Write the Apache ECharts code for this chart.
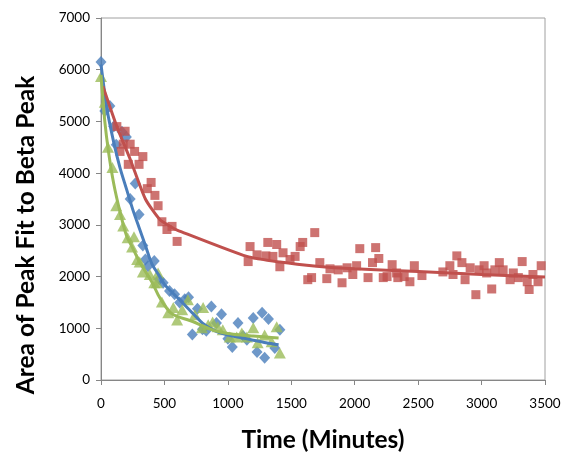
<!DOCTYPE html>
<html><head><meta charset="utf-8">
<script src="https://cdn.jsdelivr.net/npm/echarts@6/dist/echarts.min.js"></script>
<style>html,body{margin:0;padding:0;background:#fff}#c{width:563px;height:453px}</style>
</head><body><div id="c"></div>
<script>
const xTicks = [0,500,1000,1500,2000,2500,3000,3500];
const yTicks = [0,1000,2000,3000,4000,5000,6000,7000];

const blueT = [0,30,70,100,120,165,200,230,270,300,330,350,370,420,460,490,540,580,620,660,690,720,760,800,830,870,910,950,1000,1035,1080,1120,1150,1200,1230,1270,1290,1320,1370,1410];
const blueY = [6150,5200,5300,4900,4550,4800,4700,3500,3800,3200,2600,2330,2200,2300,1950,1880,1720,1660,1500,1560,1600,880,1380,980,950,1420,1100,1270,800,640,1100,850,780,1200,540,1300,430,1180,620,970];

const redT = [125,150,175,190,215,230,265,300,330,365,395,425,450,480,520,560,600,1160,1175,1230,1300,1315,1355,1385,1410,1435,1490,1530,1570,1590,1630,1660,1685,1725,1780,1805,1870,1900,1940,1985,2015,2040,2105,2140,2165,2190,2225,2255,2295,2330,2340,2390,2435,2470,2530,2695,2750,2775,2805,2845,2870,2910,2955,2980,3020,3040,3080,3105,3140,3170,3225,3250,3290,3320,3360,3375,3405,3445,3470];
const redY = [4900,4420,4560,4810,4170,4560,4420,4170,4320,3700,3820,3570,3370,3060,2910,2970,2680,2290,2580,2420,2400,2660,2390,2620,2190,2460,2330,2390,2580,2660,1940,1980,2850,2270,1960,2150,2130,1880,2170,2040,2210,2540,1980,2270,2560,2350,1980,2000,2230,2070,1980,2000,1900,2210,2020,2090,2210,2040,2400,2270,1940,2170,1650,2130,2210,2070,1760,2130,2270,2130,1940,2070,1980,2290,1900,1750,2040,1900,2210];

const greenT = [0,30,55,90,120,150,175,210,245,260,285,305,330,385,420,440,450,480,530,570,600,640,685,740,795,805,845,880,920,960,1015,1070,1110,1150,1200,1235,1290,1345,1385,1410];
const greenY = [5870,5370,4500,4110,3370,3200,2980,2750,2570,2770,2330,2280,2090,2040,1880,1880,2070,1510,1300,1400,1160,1360,1550,1260,1010,1400,1070,1120,1030,970,830,830,910,830,1010,720,870,740,1030,520];

const blueFitT = [0,50,100,150,200,250,300,350,400,450,500,550,600,700,800,900,1000,1100,1200,1300,1400];
const blueFitY = [6100,5200,4600,4100,3700,3300,2950,2600,2250,2050,1850,1720,1600,1350,1100,950,870,820,770,720,680];

const redFitT = [15,125,230,350,465,560,600,1150,1410,1700,2000,2500,3000,3500];
const redFitY = [5680,4900,4270,3500,3100,2950,2900,2390,2280,2200,2150,2100,2040,1990];

const greenFitT = [0,30,60,100,150,200,250,300,350,400,450,500,550,600,700,800,900,1000,1100,1200,1300,1400];
const greenFitY = [5900,5000,4400,3800,3250,2800,2550,2300,2100,1900,1650,1450,1300,1230,1150,1050,950,900,870,850,830,810];

const BLUE = '#4a7ebb', RED = '#c0504d', GREEN = '#9bbb59';
const FONT = 'Lato, "Open Sans", sans-serif';
const zip = (a,b) => a.map((v,i)=>[v,b[i]]);

const chart = echarts.init(document.getElementById('c'));
chart.setOption({
  animation:false,
  grid:{left:101,right:18,top:18,bottom:73,show:true,borderColor:'#a0a0a0',borderWidth:1,outerBoundsMode:'none',containLabel:false},
  xAxis:{type:'value',min:0,max:3500,interval:500,
    axisLine:{show:true,lineStyle:{color:'#868686'}},
    axisTick:{show:true,length:5,lineStyle:{color:'#868686'}},
    splitLine:{show:false},
    axisLabel:{color:'#000',fontFamily:FONT,fontSize:13.5,margin:17,
      formatter:v=>xTicks.includes(v)?String(v):''},
    name:'Time (Minutes)',nameLocation:'middle',nameGap:48,
    nameTextStyle:{fontFamily:FONT,fontWeight:'bold',fontSize:24.5,color:'#000'}},
  yAxis:{type:'value',min:0,max:7000,interval:1000,
    axisLine:{show:true,lineStyle:{color:'#868686'}},
    axisTick:{show:true,length:5,lineStyle:{color:'#868686'}},
    splitLine:{show:false},
    axisLabel:{color:'#000',fontFamily:FONT,fontSize:13.5,margin:11,
      formatter:v=>yTicks.includes(v)?String(v):''}},
  graphic:[{type:'text',x:26,y:235,rotation:Math.PI/2,
    style:{text:'Area of Peak Fit to Beta Peak',fontFamily:FONT,fontWeight:'bold',fontSize:24.5,fill:'#000',
      align:'center',verticalAlign:'middle',x:0,y:0}}],
  series:[
    {type:'scatter',data:zip(blueT,blueY),symbol:'diamond',symbolSize:[11,12],itemStyle:{color:BLUE},z:2},
    {type:'scatter',data:zip(redT,redY),symbol:'rect',symbolSize:9,itemStyle:{color:RED},z:2},
    {type:'scatter',data:zip(greenT,greenY),symbol:'triangle',symbolSize:[12,11],itemStyle:{color:GREEN},z:3},
    {type:'line',data:zip(blueFitT,blueFitY),smooth:0.3,showSymbol:false,lineStyle:{color:BLUE,width:3},z:4},
    {type:'line',data:zip(redFitT,redFitY),smooth:0.2,showSymbol:false,lineStyle:{color:RED,width:3},z:4},
    {type:'line',data:zip(greenFitT,greenFitY),smooth:0.3,showSymbol:false,lineStyle:{color:GREEN,width:3},z:4}
  ]
});
</script></body></html>
